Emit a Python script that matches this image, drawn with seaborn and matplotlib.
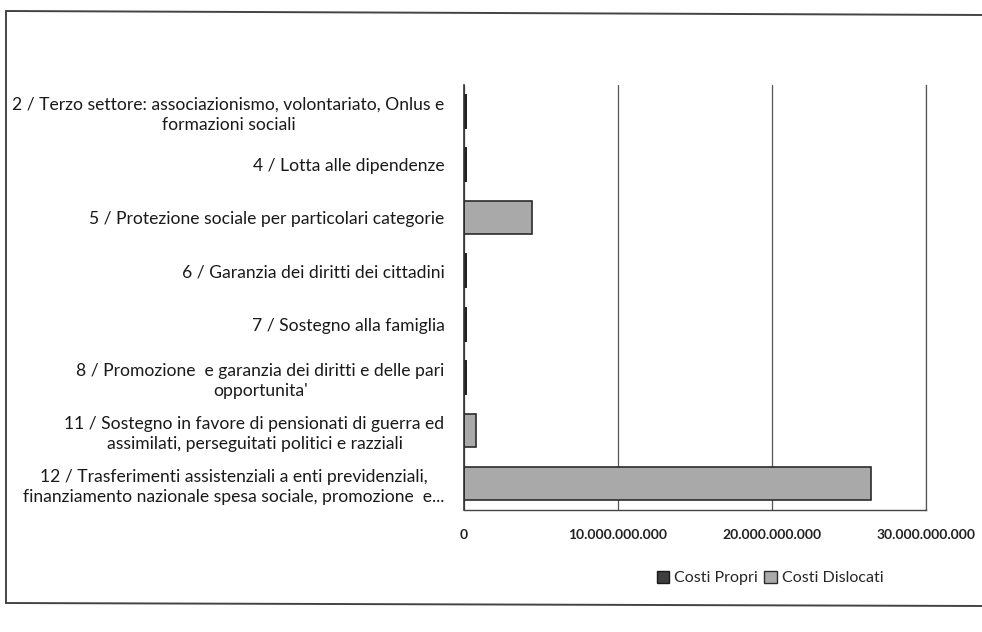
import matplotlib
matplotlib.use("Agg")
import matplotlib.pyplot as plt
import matplotlib.ticker as mticker
from matplotlib.patches import Patch
from matplotlib.lines import Line2D
import pandas as pd
import seaborn as sns

categories = [
    "2 / Terzo settore: associazionismo, volontariato, Onlus e\nformazioni sociali",
    "4 / Lotta alle dipendenze",
    "5 / Protezione sociale per particolari categorie",
    "6 / Garanzia dei diritti dei cittadini",
    "7 / Sostegno alla famiglia",
    "8 / Promozione  e garanzia dei diritti e delle pari\nopportunita'",
    "11 / Sostegno in favore di pensionati di guerra ed\nassimilati, perseguitati politici e razziali",
    "12 / Trasferimenti assistenziali a enti previdenziali,\nfinanziamento nazionale spesa sociale, promozione  e...",
]
costi_propri = [1.0e8, 1.0e8, 0, 1.0e8, 1.0e8, 1.0e8, 0, 0]
costi_dislocati = [0, 0, 4.4e9, 0, 0, 0, 0.8e9, 26.4e9]
xticks = [0, 10e9, 20e9, 30e9]

df = pd.DataFrame({"cat": categories, "propri": costi_propri, "dislocati": costi_dislocati})
df["totale"] = df["propri"] + df["dislocati"]

sns.set_style("white")
plt.rcParams["font.family"] = ["Lato", "DejaVu Sans"]

fig = plt.figure(figsize=(9.82, 6.32), dpi=100)
ax = fig.add_axes([464 / 982, 1 - 510 / 632, (926 - 464) / 982, (510 - 85) / 632])

dark = "#3f3f3f"
light = "#a9a9a9"

# stacked bars: total in light grey, then own costs in dark on top
sns.barplot(data=df, y="cat", x="totale", color=light, orient="h", width=0.62,
            edgecolor="#2b2b2b", linewidth=1.2, ax=ax, saturation=1)
sns.barplot(data=df, y="cat", x="propri", color=dark, orient="h", width=0.62,
            edgecolor="#1a1a1a", linewidth=1.2, ax=ax, saturation=1)

ax.set_xlim(0, 30e9)
ax.set_xticks(xticks)
ax.xaxis.set_major_formatter(mticker.FuncFormatter(lambda v, p: f"{int(v):,}".replace(",", ".")))
ax.grid(axis="x", color="#555555", linewidth=0.9)
ax.set_axisbelow(True)
ax.spines["top"].set_visible(False)
ax.spines["right"].set_color("#555555")
ax.spines["right"].set_linewidth(0.9)
ax.spines["left"].set_color("#333333")
ax.spines["bottom"].set_color("#444444")
ax.spines["left"].set_linewidth(1.2)
ax.spines["bottom"].set_linewidth(1.0)

ax.set_xlabel("")
ax.set_ylabel("")
ax.tick_params(axis="y", length=0, pad=14)
ax.tick_params(axis="x", length=0, pad=14)
for lab in ax.get_yticklabels():
    lab.set_fontsize(12.6)
    lab.set_multialignment("center")
    lab.set_linespacing(1.3)
    lab.set_color("#1a1a1a")
for lab in ax.get_xticklabels():
    lab.set_fontsize(10)
    lab.set_fontweight("bold")
    lab.set_color("#222222")

handles = [Patch(facecolor=dark, edgecolor="#1a1a1a", label="Costi Propri"),
           Patch(facecolor=light, edgecolor="#2b2b2b", label="Costi Dislocati")]
fig.legend(handles=handles, loc="center", bbox_to_anchor=(770 / 982, 1 - 578 / 632),
           ncol=2, frameon=False, fontsize=11.5, handlelength=0.8, handleheight=0.8,
           handletextpad=0.3, columnspacing=0.4)

# outer chart border (scanned page frame)
fig.add_artist(Line2D([6 / 982, 1.0], [1 - 11 / 632, 1 - 15 / 632], color="#444444", lw=1.4))
fig.add_artist(Line2D([6 / 982, 6 / 982], [1 - 11 / 632, 1 - 603 / 632], color="#444444", lw=1.4))
fig.add_artist(Line2D([6 / 982, 1.0], [1 - 603 / 632, 1 - 606 / 632], color="#444444", lw=1.4))

fig.savefig("out.png", dpi=100)
